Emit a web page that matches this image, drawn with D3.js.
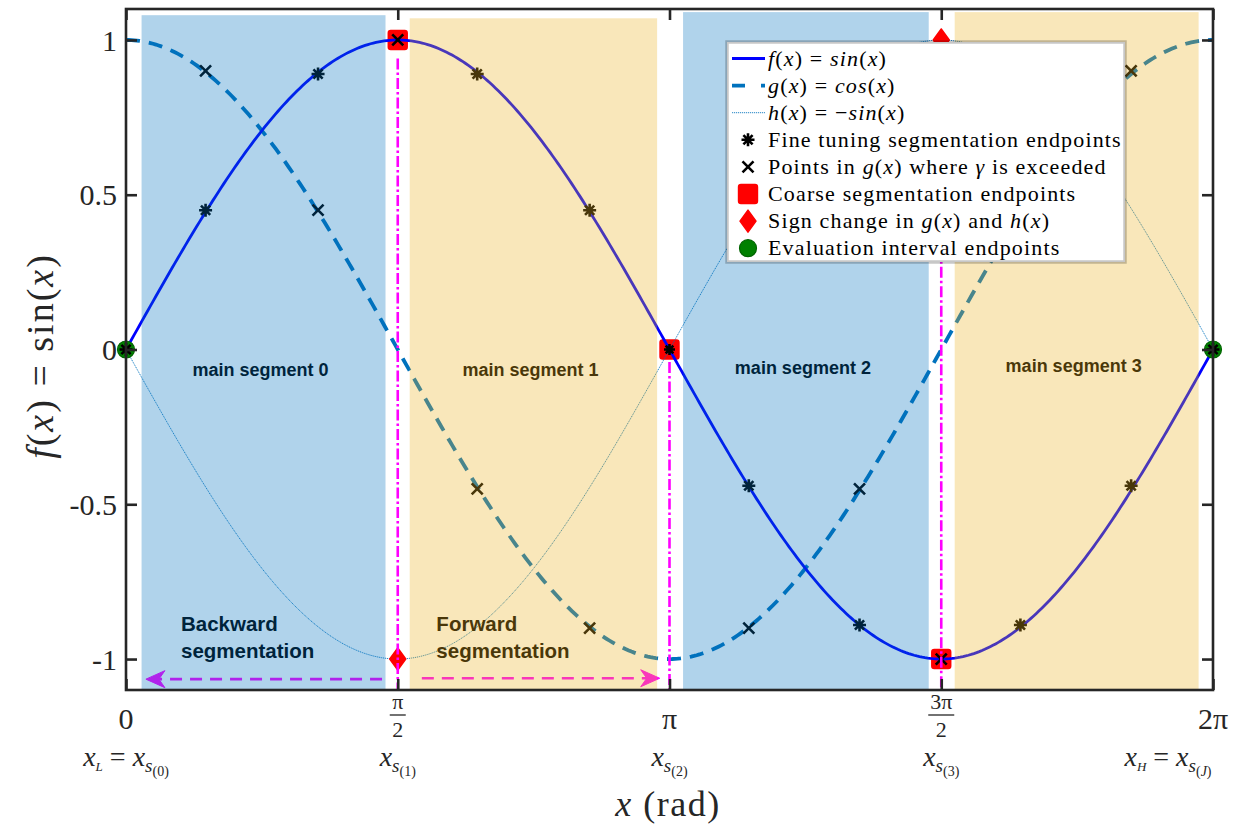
<!DOCTYPE html>
<html>
<head>
<meta charset="utf-8">
<script src="https://cdn.jsdelivr.net/npm/d3@7"></script>
<style>
  html, body { margin: 0; padding: 0; background: #fff; }
  svg { display: block; }
  .serif { font-family: "Liberation Serif", "Times New Roman", serif; }
  .sans { font-family: "Liberation Sans", Arial, sans-serif; font-weight: bold; }
</style>
</head>
<body>
<svg id="chart" width="1237" height="825"></svg>
<script>
const PI = Math.PI;

// ---- tick values and labels ----
const xTicks = [0, PI / 2, PI, 3 * PI / 2, 2 * PI];
const xTickLabels = ["0", "π/2", "π", "3π/2", "2π"];
const xBoundNames = ["L", "", "", "", "H"];
const xBoundIndex = ["0", "1", "2", "3", "J"];
const yTicks = [-1, -0.5, 0, 0.5, 1];
const yTickLabels = ["-1", "-0.5", "0", "0.5", "1"];

// ---- main segments (radians) ----
const segLabels = ["main segment 0", "main segment 1", "main segment 2", "main segment 3"];
const segStart = [0.09, 1.64, 3.22, 4.79];
const segEnd = [1.50, 3.07, 4.64, 6.20];
const segTop = [1.08, 1.07, 1.09, 1.09];

// ---- marker points ----
const fineX = [0, 0.46, 1.11, 2.03, 2.68, PI, 3.60, 4.24, 5.17, 5.81, 2 * PI];
const fineY = [0, 0.45, 0.89, 0.89, 0.45, 0, -0.44, -0.89, -0.89, -0.44, 0];
const crossX = [0.46, 1.11, PI / 2, 2.03, 2.68, 3.60, 4.24, 3 * PI / 2, 5.17, 5.81];
const crossY = [0.90, 0.45, 1, -0.45, -0.90, -0.90, -0.45, -1, 0.44, 0.90];
const coarseX = [PI / 2, PI, 3 * PI / 2];
const coarseY = [1, 0, -1];
const signX = [PI / 2, 3 * PI / 2];
const signY = [-1, 1];
const evalX = [0, 2 * PI];
const evalY = [0, 0];

// coarse cut lines: x position and upper end
const cutX = [PI / 2, PI, 3 * PI / 2];
const cutTop = [0.94, -0.04, 0.96];

// functions named in the legend
const f = Math.sin, g = Math.cos, h = v => -Math.sin(v);
const curveX = d3.range(0, 401).map(i => i * 2 * PI / 400);

const svg = d3.select("#chart");
const x = d3.scaleLinear().domain([0, 2 * PI]).range([126, 1213]);
const y = d3.scaleLinear().domain([-1.1, 1.1]).range([690, 9]);

const BLUE = "#0072BD", GOLD = "#EDB120";
const segColors = [BLUE, GOLD, BLUE, GOLD];

// marker shapes
function asteriskPath(s) {
  const r = s / 2, d = r * 0.7071;
  return `M${-r},0H${r}M0,${-r}V${r}M${-d},${-d}L${d},${d}M${-d},${d}L${d},${-d}`;
}
function crossPath(s) {
  const r = s / 2;
  return `M${-r},${-r}L${r},${r}M${-r},${r}L${r},${-r}`;
}
function diamondPath(w, hh) {
  return `M0,${-hh}L${w},0L0,${hh}L${-w},0Z`;
}

// rich text: italic / size / baseline shifts
function rich(sel, parts) {
  parts.forEach(p => {
    const t = sel.append("tspan").text(p.t);
    if (p.i) t.attr("font-style", "italic");
    if (p.size) t.attr("font-size", p.size);
    if (p.dy) t.attr("dy", p.dy);
  });
  return sel;
}

const plot = svg.append("g");

// coarse segmentation squares
plot.selectAll(".coarse").data(coarseX).join("rect")
  .attr("x", (d) => x(d) - 9).attr("y", (d, i) => y(coarseY[i]) - 9)
  .attr("width", 18).attr("height", 18).attr("rx", 2)
  .attr("fill", "#ff0000").attr("stroke", "#ff0000").attr("stroke-width", 2.4)
  .attr("stroke-linejoin", "round");

// curves
const line = fn => d3.line().x(d => x(d)).y(d => y(fn(d)));
plot.append("path").datum(curveX).attr("d", line(h))
  .attr("fill", "none").attr("stroke", BLUE).attr("stroke-width", 1)
  .attr("stroke-dasharray", "1.2 0.8").attr("opacity", 0.85);
plot.append("path").datum(curveX).attr("d", line(g))
  .attr("fill", "none").attr("stroke", BLUE).attr("stroke-width", 3.8)
  .attr("stroke-dasharray", "14 9");
plot.append("path").datum(curveX).attr("d", line(f))
  .attr("fill", "none").attr("stroke", "#0000ff").attr("stroke-width", 2.8);

// evaluation interval endpoints
plot.selectAll(".eval").data(evalX).join("circle")
  .attr("cx", d => x(d)).attr("cy", (d, i) => y(evalY[i])).attr("r", 8.5)
  .attr("fill", "#008000").attr("stroke", "#006400").attr("stroke-width", 1.2);

// sign change markers
plot.selectAll(".sign").data(signX).join("path")
  .attr("transform", (d, i) => `translate(${x(d)},${y(signY[i])})`)
  .attr("d", diamondPath(8, 11))
  .attr("fill", "#ff0000").attr("stroke", "#ff0000").attr("stroke-width", 1.5)
  .attr("stroke-linejoin", "round");

// fine tuning endpoints
plot.selectAll(".fine").data(fineX).join("path")
  .attr("transform", (d, i) => `translate(${x(d)},${y(fineY[i])})`)
  .attr("d", (d, i) => asteriskPath(d === PI ? 11 : 13))
  .attr("stroke", "#000").attr("stroke-width", 2.6).attr("fill", "none");

// points on g(x) where gamma is exceeded
plot.selectAll(".cross").data(crossX).join("path")
  .attr("transform", (d, i) => `translate(${x(d)},${y(crossY[i])})`)
  .attr("d", crossPath(11))
  .attr("stroke", "#000").attr("stroke-width", 2.6).attr("fill", "none");

// coarse cut lines
plot.selectAll(".cut").data(cutX).join("line")
  .attr("x1", d => x(d)).attr("x2", d => x(d))
  .attr("y1", (d, i) => y(cutTop[i])).attr("y2", y(-1.1))
  .attr("stroke", "#ff00ff").attr("stroke-width", 2.6)
  .attr("stroke-dasharray", "11 3 2.5 3");

// segment names
plot.selectAll(".segname").data(segLabels).join("text")
  .attr("class", "sans")
  .attr("x", (d, i) => x((segStart[i] + segEnd[i]) / 2) - 3)
  .attr("y", (d, i) => y(i < 2 ? -0.066 : (i === 2 ? -0.06 : -0.053)))
  .attr("dy", "0.35em")
  .attr("text-anchor", "middle").attr("font-size", 18).attr("fill", "#000")
  .text(d => d);

// direction annotations
const dirText = [
  { lines: ["Backward", "segmentation"], at: 0.318 },
  { lines: ["Forward", "segmentation"], at: 1.794 }
];
dirText.forEach(dt => {
  dt.lines.forEach((s, k) => {
    plot.append("text").attr("class", "sans")
      .attr("x", x(dt.at)).attr("y", y(k === 0 ? -0.887 : -0.974)).attr("dy", "0.35em")
      .attr("font-size", 20.5).attr("fill", "#000").text(s);
  });
});

// direction arrows
function arrow(x0, x1, yy) {
  const px0 = x(x0), px1 = x(x1), py = y(yy);
  const dir = Math.sign(px1 - px0);
  plot.append("line")
    .attr("x1", px0).attr("x2", px1 - dir * 12).attr("y1", py).attr("y2", py)
    .attr("stroke", "#ff00ff").attr("stroke-width", 2.6).attr("stroke-dasharray", "12 8");
  plot.append("path")
    .attr("d", `M${px1},${py}L${px1 - dir * 19},${py - 8.5}L${px1 - dir * 13},${py}L${px1 - dir * 19},${py + 8.5}Z`)
    .attr("fill", "#ff00ff").attr("stroke", "#ff00ff").attr("stroke-width", 1).attr("stroke-linejoin", "round");
}
arrow(1.48, 0.115, -1.065);
arrow(1.71, 3.085, -1.062);

// translucent segment shading
plot.selectAll(".seg").data(segStart).join("rect")
  .attr("x", d => x(d)).attr("width", (d, i) => x(segEnd[i]) - x(d))
  .attr("y", (d, i) => y(segTop[i])).attr("height", (d, i) => y(-1.1) - y(segTop[i]))
  .attr("fill", (d, i) => segColors[i]).attr("opacity", 0.31);

// ---- axes ----
const AX = "#262626";
const frame = svg.append("g");
const leftAxis = frame.append("g").attr("transform", `translate(${x(0)},0)`)
  .call(d3.axisLeft(y).tickValues(yTicks).tickSize(-11).tickSizeOuter(0).tickPadding(9)
    .tickFormat((d, i) => yTickLabels[i]));
frame.append("g").attr("transform", `translate(${x(2 * PI)},0)`)
  .call(d3.axisRight(y).tickValues(yTicks).tickSize(-11).tickSizeOuter(0).tickFormat(""));
frame.append("g").attr("transform", `translate(0,${y(1.1)})`)
  .call(d3.axisTop(x).tickValues(xTicks).tickSize(-11).tickSizeOuter(0).tickFormat(""));
frame.append("g").attr("transform", `translate(0,${y(-1.1)})`)
  .call(d3.axisBottom(x).tickValues(xTicks).tickSize(-11).tickSizeOuter(0).tickFormat(""));
frame.selectAll(".domain").remove();
frame.selectAll(".tick line").attr("stroke", AX).attr("stroke-width", 2.6);
leftAxis.selectAll(".tick text")
  .attr("class", "serif").attr("font-size", 30).attr("fill", AX).attr("dy", "0.34em");
frame.append("rect")
  .attr("x", x(0)).attr("y", y(1.1)).attr("width", x(2 * PI) - x(0)).attr("height", y(-1.1) - y(1.1))
  .attr("fill", "none").attr("stroke", AX).attr("stroke-width", 2.6);

// x tick labels (fractions drawn stacked)
xTicks.forEach((v, i) => {
  const lab = xTickLabels[i];
  const cx = x(v);
  if (lab.includes("/")) {
    const [num, den] = lab.split("/");
    frame.append("text").attr("class", "serif").attr("x", cx).attr("y", 709)
      .attr("text-anchor", "middle").attr("font-size", 22).attr("fill", AX).text(num);
    const bw = num.length > 1 ? 13 : 8;
    frame.append("line").attr("x1", cx - bw).attr("x2", cx + bw).attr("y1", 715).attr("y2", 715)
      .attr("stroke", AX).attr("stroke-width", 1.3);
    frame.append("text").attr("class", "serif").attr("x", cx).attr("y", 737)
      .attr("text-anchor", "middle").attr("font-size", 22).attr("fill", AX).text(den);
  } else {
    frame.append("text").attr("class", "serif").attr("x", cx).attr("y", 729)
      .attr("text-anchor", "middle").attr("font-size", 30).attr("fill", AX).text(lab);
  }
  // boundary names below the ticks
  const parts = [];
  if (xBoundNames[i]) {
    parts.push({ t: "x", i: 1 }, { t: xBoundNames[i], i: 1, size: 13, dy: 5 }, { t: " = ", dy: -5 });
  }
  parts.push({ t: "x", i: 1 }, { t: "s", i: 1, size: 19, dy: 6 },
    { t: "(" }, { t: xBoundIndex[i], i: xBoundIndex[i] === "J" ? 1 : 0 }, { t: ")" });
  const t = frame.append("text").attr("class", "serif")
    .attr("x", i === 4 ? 1168 : cx).attr("y", 766)
    .attr("text-anchor", "middle").attr("font-size", 28).attr("fill", AX);
  rich(t, parts);
  // shrink and lower the (k) index
  const ts = t.selectAll("tspan").nodes();
  const n = ts.length;
  d3.select(ts[n - 3]).attr("font-size", 14).attr("dy", 4);
  d3.select(ts[n - 2]).attr("font-size", 14);
  d3.select(ts[n - 1]).attr("font-size", 14);
});

// axis titles
rich(svg.append("text").attr("class", "serif").attr("x", 668).attr("y", 816)
  .attr("text-anchor", "middle").attr("font-size", 36).attr("fill", AX).attr("letter-spacing", 1.5),
  [{ t: "x", i: 1 }, { t: " (rad)" }]);
rich(svg.append("text").attr("class", "serif")
  .attr("transform", "translate(53,356) rotate(-90)")
  .attr("text-anchor", "middle").attr("font-size", 38).attr("fill", AX).attr("letter-spacing", 2),
  [{ t: "f", i: 1 }, { t: "(" }, { t: "x", i: 1 }, { t: ") = sin(" }, { t: "x", i: 1 }, { t: ")" }]);

// ---- legend ----
const legendLabels = [
  [{ t: "f", i: 1 }, { t: "(" }, { t: "x", i: 1 }, { t: ") = " }, { t: "sin", i: 1 }, { t: "(" }, { t: "x", i: 1 }, { t: ")" }],
  [{ t: "g", i: 1 }, { t: "(" }, { t: "x", i: 1 }, { t: ") = " }, { t: "cos", i: 1 }, { t: "(" }, { t: "x", i: 1 }, { t: ")" }],
  [{ t: "h", i: 1 }, { t: "(" }, { t: "x", i: 1 }, { t: ") = −" }, { t: "sin", i: 1 }, { t: "(" }, { t: "x", i: 1 }, { t: ")" }],
  [{ t: "Fine tuning segmentation endpoints" }],
  [{ t: "Points in " }, { t: "g", i: 1 }, { t: "(" }, { t: "x", i: 1 }, { t: ") where " }, { t: "γ", i: 1 }, { t: " is exceeded" }],
  [{ t: "Coarse segmentation endpoints" }],
  [{ t: "Sign change in " }, { t: "g", i: 1 }, { t: "(" }, { t: "x", i: 1 }, { t: ") and " }, { t: "h", i: 1 }, { t: "(" }, { t: "x", i: 1 }, { t: ")" }],
  [{ t: "Evaluation interval endpoints" }]
];
const lg = svg.append("g");
lg.append("rect").attr("x", 727).attr("y", 42).attr("width", 398).attr("height", 220)
  .attr("fill", "#fff").attr("stroke", "#000").attr("stroke-opacity", 0.22).attr("stroke-width", 3.5);
const rowY = i => 58.5 + i * 27.1;
const mx = 748;
lg.append("line").attr("x1", 732).attr("x2", 765).attr("y1", rowY(0)).attr("y2", rowY(0))
  .attr("stroke", "#0000ff").attr("stroke-width", 2.8);
lg.append("line").attr("x1", 732).attr("x2", 765).attr("y1", rowY(1)).attr("y2", rowY(1))
  .attr("stroke", BLUE).attr("stroke-width", 3.8).attr("stroke-dasharray", "13 16");
lg.append("line").attr("x1", 732).attr("x2", 765).attr("y1", rowY(2)).attr("y2", rowY(2))
  .attr("stroke", BLUE).attr("stroke-width", 1).attr("stroke-dasharray", "1.2 0.8").attr("opacity", 0.85);
lg.append("path").attr("transform", `translate(${mx},${rowY(3)})`).attr("d", asteriskPath(13))
  .attr("stroke", "#000").attr("stroke-width", 2.6).attr("fill", "none");
lg.append("path").attr("transform", `translate(${mx},${rowY(4)})`).attr("d", crossPath(11))
  .attr("stroke", "#000").attr("stroke-width", 2.6).attr("fill", "none");
lg.append("rect").attr("x", mx - 9).attr("y", rowY(5) - 9).attr("width", 18).attr("height", 18).attr("rx", 2)
  .attr("fill", "#ff0000").attr("stroke", "#ff0000").attr("stroke-width", 2.4);
lg.append("path").attr("transform", `translate(${mx},${rowY(6)})`).attr("d", diamondPath(8, 11))
  .attr("fill", "#ff0000").attr("stroke", "#ff0000").attr("stroke-width", 1.5).attr("stroke-linejoin", "round");
lg.append("circle").attr("cx", mx).attr("cy", rowY(7)).attr("r", 8.5)
  .attr("fill", "#008000").attr("stroke", "#006400").attr("stroke-width", 1.2);
legendLabels.forEach((parts, i) => {
  rich(lg.append("text").attr("class", "serif").attr("x", 768).attr("y", rowY(i) + 7)
    .attr("font-size", 22).attr("letter-spacing", 1.15).attr("fill", "#000"), parts);
});
</script>
</body>
</html>
